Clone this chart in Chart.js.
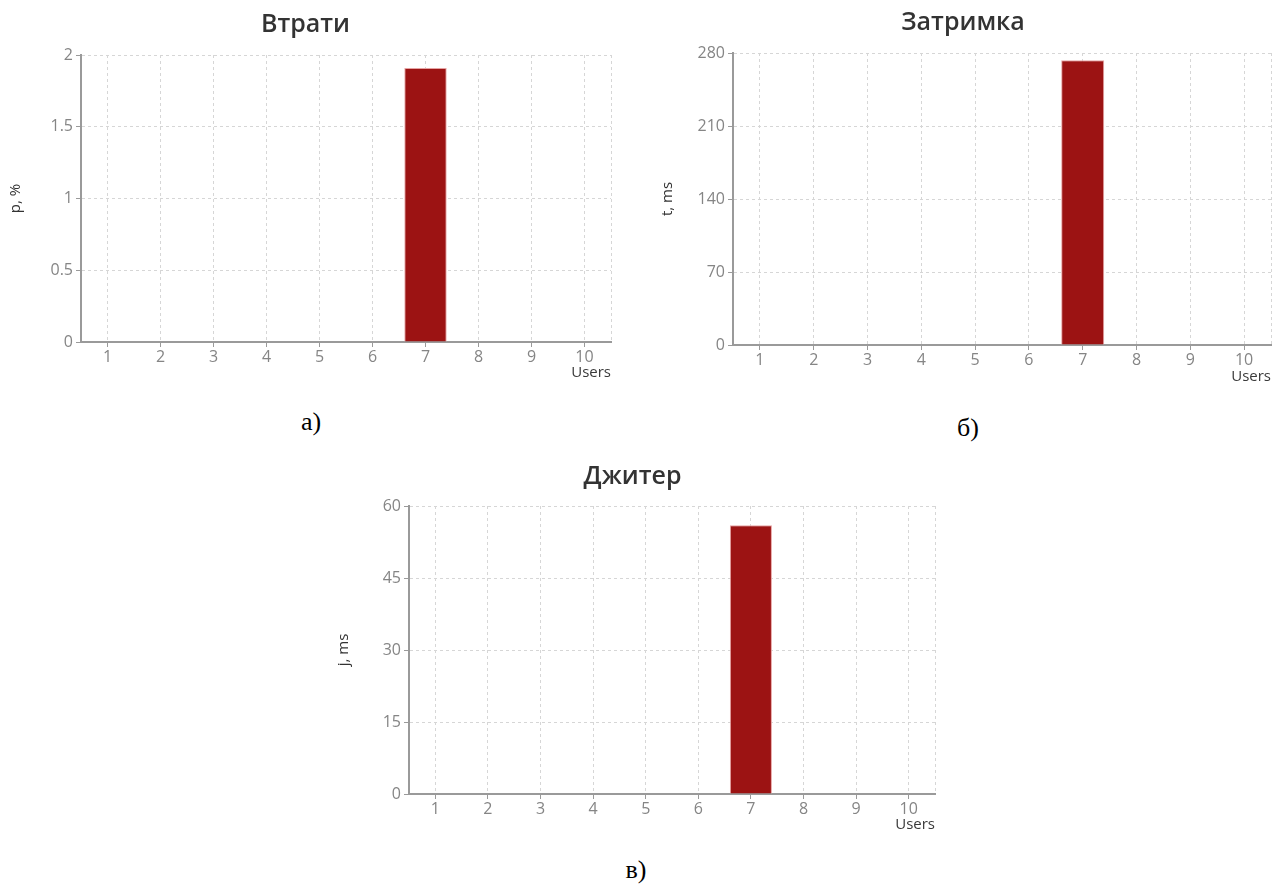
<!DOCTYPE html>
<html>
<head>
<meta charset="utf-8">
<script src="https://cdn.jsdelivr.net/npm/chart.js@4.4.1/dist/chart.umd.min.js"></script>
<style>
  html, body { margin: 0; padding: 0; background: #fff; overflow: hidden; }
  body { width: 1283px; height: 885px; position: relative; }
  .box { position: absolute; }
  .caption {
    position: absolute;
    font-family: "Liberation Serif", "Times New Roman", serif;
    font-size: 26px;
    color: #000;
    transform: translate(-50%, -50%);
  }
</style>
</head>
<body>
<div class="box" id="boxLoss"><canvas id="lossChart"></canvas></div>
<div class="box" id="boxDelay"><canvas id="delayChart"></canvas></div>
<div class="box" id="boxJitter"><canvas id="jitterChart"></canvas></div>
<div class="caption" style="left:311px;top:422px">а)</div>
<div class="caption" style="left:968px;top:428px">б)</div>
<div class="caption" style="left:636px;top:870px">в)</div>

<script>
// data
const users = ["1", "2", "3", "4", "5", "6", "7", "8", "9", "10"];
const lossValues = [0, 0, 0, 0, 0, 0, 1.91, 0, 0, 0];
const delayValues = [0, 0, 0, 0, 0, 0, 273, 0, 0, 0];
const jitterValues = [0, 0, 0, 0, 0, 0, 56, 0, 0, 0];
const lossTicks = [0, 0.5, 1, 1.5, 2];
const delayTicks = [0, 70, 140, 210, 280];
const jitterTicks = [0, 15, 30, 45, 60];

Chart.defaults.font.family = "'Open Sans', 'Noto Sans', sans-serif";

const gridColor = "#d6d6d6";
const axisColor = "#9a9a9a";

// dotted line on the right side of the plot
const rightEdge = {
  id: "rightEdge",
  beforeDatasetsDraw(chart) {
    const { ctx, chartArea } = chart;
    ctx.save();
    ctx.strokeStyle = gridColor;
    ctx.lineWidth = 1;
    ctx.setLineDash([3, 3]);
    ctx.beginPath();
    ctx.moveTo(Math.round(chartArea.right) + 0.5, chartArea.top);
    ctx.lineTo(Math.round(chartArea.right) + 0.5, chartArea.bottom);
    ctx.stroke();
    ctx.restore();
  },
};

function makeChart(id, boxId, title, yTitle, values, ticks, layout) {
  const [cx, cy, cw, ch] = layout.canvas;
  const [pl, pt, pr, pb] = layout.plot;
  const box = document.getElementById(boxId);
  box.style.left = cx + "px";
  box.style.top = cy + "px";
  box.style.width = cw + "px";
  box.style.height = ch + "px";

  const titleSize = 25;
  const titleLH = titleSize * 1.2;
  const titleTop = layout.titleY - cy - titleLH / 2;
  const titleBottom = pt - cy - titleTop - titleLH;
  const yTitleSize = 15;
  const usersSize = 15;

  return new Chart(document.getElementById(id), {
    type: "bar",
    data: {
      labels: users,
      datasets: [
        {
          data: values,
          backgroundColor: "#9c1313",
          borderColor: "#e6a3a3",
          borderWidth: 1,
          barPercentage: 1,
          categoryPercentage: 0.8,
        },
      ],
    },
    options: {
      responsive: true,
      maintainAspectRatio: false,
      animation: false,
      layout: { padding: { left: 0, top: 0, bottom: 0, right: cx + cw - pr } },
      plugins: {
        legend: { display: false },
        tooltip: { enabled: false },
        title: {
          display: true,
          text: title,
          color: "#333",
          font: { size: titleSize, weight: "600" },
          padding: { top: titleTop, bottom: titleBottom },
        },
      },
      scales: {
        x: {
          offset: true,
          grid: {
            offset: false,
            color: gridColor,
            tickColor: axisColor,
            tickLength: 5,
            tickBorderDash: [],
          },
          border: { color: axisColor, width: 2, dash: [3, 3] },
          ticks: { color: "#858585", font: { size: 16 }, padding: 1 },
          title: {
            display: true,
            text: "Users",
            align: "end",
            color: "#3a3a3a",
            font: { size: usersSize },
            padding: { top: 0, bottom: cy + ch - layout.usersY - (usersSize * 1.2) / 2 },
          },
          afterFit(scale) {
            scale.height = cy + ch - pb;
          },
        },
        y: {
          min: ticks[0],
          max: ticks[ticks.length - 1],
          ticks: {
            stepSize: ticks[1] - ticks[0],
            color: "#858585",
            font: { size: 16 },
            padding: 3,
            callback: (v) => String(v),
          },
          grid: {
            color: gridColor,
            tickColor: axisColor,
            tickLength: 5,
            tickBorderDash: [],
          },
          border: { color: axisColor, width: 2, dash: [3, 3] },
          title: {
            display: true,
            text: yTitle,
            color: "#333",
            font: { size: yTitleSize },
            padding: { top: pl - 65 - cx - (yTitleSize * 1.2) / 2, bottom: 0 },
          },
          afterFit(scale) {
            scale.width = pl - cx;
          },
        },
      },
    },
    plugins: [rightEdge],
  });
}

makeChart("lossChart", "boxLoss", "Втрати", "p, %", lossValues, lossTicks, {
  canvas: [0, 0, 636, 394],
  plot: [81, 55, 611, 342],
  titleY: 25,
  usersY: 373,
});

makeChart("delayChart", "boxDelay", "Затримка", "t, ms", delayValues, delayTicks, {
  canvas: [655, 0, 638, 397],
  plot: [733, 53, 1271, 345],
  titleY: 23,
  usersY: 377,
});

makeChart("jitterChart", "boxJitter", "Джитер", "j, ms", jitterValues, jitterTicks, {
  canvas: [330, 450, 628, 396],
  plot: [409, 506, 935, 794],
  titleY: 477,
  usersY: 825,
});
</script>
</body>
</html>
